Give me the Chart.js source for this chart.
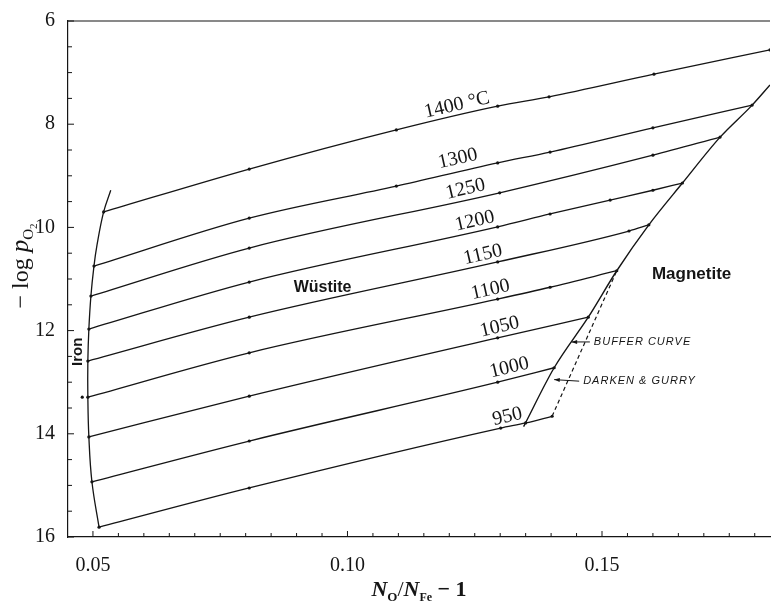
<!DOCTYPE html>
<html>
<head>
<meta charset="utf-8">
<script src="https://cdn.jsdelivr.net/npm/chart.js@4.4.0/dist/chart.umd.min.js"></script>
<style>
  html, body { margin: 0; padding: 0; background: #fff; }
</style>
</head>
<body>
<canvas id="phase" width="774" height="605"></canvas>
<script>
// tick labels
const xTicks = [0.05, 0.10, 0.15];
const yTicks = [6, 8, 10, 12, 14, 16];

// isotherms, [N_O/N_Fe - 1, -log pO2]
const iso1400 = [[0.0521, 9.70], [0.0807, 8.87], [0.1096, 8.11], [0.1295, 7.65], [0.1396, 7.47], [0.1602, 7.03], [0.1830, 6.56]];
const iso1300 = [[0.0502, 10.75], [0.0807, 9.82], [0.1096, 9.20], [0.1295, 8.75], [0.1398, 8.54], [0.1600, 8.07], [0.1795, 7.63]];
const iso1250 = [[0.0496, 11.33], [0.0807, 10.40], [0.1299, 9.33], [0.1600, 8.60], [0.1732, 8.25]];
const iso1200 = [[0.0492, 11.97], [0.0807, 11.06], [0.1295, 9.99], [0.1398, 9.74], [0.1516, 9.47], [0.1600, 9.28], [0.1658, 9.14]];
const iso1150 = [[0.0490, 12.59], [0.0807, 11.74], [0.1295, 10.67], [0.1553, 10.07], [0.1592, 9.95]];
const iso1100 = [[0.0490, 13.29], [0.0807, 12.43], [0.1295, 11.39], [0.1398, 11.16], [0.1529, 10.84]];
const iso1050 = [[0.0492, 14.06], [0.0807, 13.27], [0.1295, 12.14], [0.1473, 11.74]];
const iso1000 = [[0.0498, 14.93], [0.0807, 14.14], [0.1295, 13.00], [0.1406, 12.72]];
const iso950 = [[0.0512, 15.81], [0.0807, 15.05], [0.1301, 13.89], [0.1350, 13.79], [0.1402, 13.66]];

const isoLabels = ["1400 °C", "1300", "1250", "1200", "1150", "1100", "1050", "1000", "950"];
const isoLabelAt = [[0.1215, 7.63], [0.1217, 8.67], [0.1232, 9.26], [0.1250, 9.88], [0.1266, 10.53],
                    [0.1281, 11.21], [0.1299, 11.93], [0.1318, 12.72], [0.1314, 13.67]];

// phase boundaries
const ironBoundary = [[0.0535, 9.28], [0.0521, 9.70], [0.0508, 10.34], [0.0502, 10.75], [0.0496, 11.33], [0.0492, 11.97],
                      [0.0490, 12.59], [0.0490, 13.29], [0.0492, 14.06], [0.0498, 14.93], [0.0512, 15.81]];
const darkenGurry = [[0.1346, 13.86], [0.1406, 12.72], [0.1473, 11.74], [0.1529, 10.84], [0.1592, 9.95],
                     [0.1658, 9.14], [0.1732, 8.25], [0.1795, 7.63], [0.1830, 7.24]];
const bufferCurve = [[0.1402, 13.66], [0.1529, 10.84]];
const strayPoints = [[0.0479, 13.29]];

const regionNames = ["Wüstite", "Magnetite", "Iron"];
const regionAt = [[0.0951, 11.17], [0.1676, 10.90], [0.0471, 12.41]];

const noteTexts = ["BUFFER CURVE", "DARKEN & GURRY"];
const noteAt = [[0.1484, 12.22], [0.1463, 12.98]];
const noteArrowTo = [[0.1440, 12.22], [0.1406, 12.95]];

const INK = "#151515";

function toXY(arr) {
    return arr.map(p => ({ x: p[0], y: p[1] }));
}

function lineSet(arr, extra) {
    return Object.assign({
        data: toXY(arr),
        showLine: true,
        borderColor: INK,
        borderWidth: 1.3,
        pointRadius: 1.6,
        pointBackgroundColor: INK,
        pointBorderWidth: 0,
        cubicInterpolationMode: "monotone"
    }, extra || {});
}

function drawRich(ctx, parts, cx, cy, angle) {
    ctx.save();
    ctx.translate(cx, cy);
    ctx.rotate(angle);
    let w = 0;
    parts.forEach(p => { ctx.font = p.f; w += ctx.measureText(p.t).width; });
    let x = -w / 2;
    ctx.textBaseline = "alphabetic";
    ctx.textAlign = "left";
    parts.forEach(p => {
        ctx.font = p.f;
        ctx.fillText(p.t, x, p.dy || 0);
        x += ctx.measureText(p.t).width;
    });
    ctx.restore();
}

function arrow(ctx, x1, y1, x2, y2) {
    ctx.beginPath();
    ctx.moveTo(x1, y1);
    ctx.lineTo(x2, y2);
    ctx.stroke();
    const a = Math.atan2(y2 - y1, x2 - x1);
    ctx.beginPath();
    ctx.moveTo(x2, y2);
    ctx.lineTo(x2 - 6 * Math.cos(a - 0.35), y2 - 6 * Math.sin(a - 0.35));
    ctx.lineTo(x2 - 6 * Math.cos(a + 0.35), y2 - 6 * Math.sin(a + 0.35));
    ctx.closePath();
    ctx.fill();
}

const overlay = {
    id: "overlay",
    afterDraw(chart) {
        const { ctx, chartArea: a } = chart;
        const x = chart.scales.x, y = chart.scales.y;
        ctx.save();
        ctx.strokeStyle = INK;
        ctx.fillStyle = INK;

        // top frame line
        ctx.lineWidth = 1.2;
        ctx.beginPath();
        ctx.moveTo(a.left, a.top);
        ctx.lineTo(a.right, a.top);
        ctx.stroke();

        // inward ticks
        ctx.lineWidth = 1;
        for (let k = 10; k <= 36; k++) {
            const px = x.getPixelForValue(k * 0.005);
            const len = k % 10 === 0 ? 6 : 4;
            ctx.beginPath();
            ctx.moveTo(px, a.bottom);
            ctx.lineTo(px, a.bottom - len);
            ctx.stroke();
        }
        for (let k = 12; k <= 32; k++) {
            const py = y.getPixelForValue(k * 0.5);
            const len = k % 4 === 0 ? 6 : 4;
            ctx.beginPath();
            ctx.moveTo(a.left, py);
            ctx.lineTo(a.left + len, py);
            ctx.stroke();
        }

        // isotherm labels, rotated along their line
        const sets = [iso1400, iso1300, iso1250, iso1200, iso1150, iso1100, iso1050, iso1000, iso950];
        ctx.font = '20px "Liberation Serif"';
        ctx.textAlign = "center";
        ctx.textBaseline = "middle";
        sets.forEach((s, i) => {
            const p0 = s[1], p1 = s[s.length - 1];
            const ang = Math.atan2(y.getPixelForValue(p1[1]) - y.getPixelForValue(p0[1]),
                                   x.getPixelForValue(p1[0]) - x.getPixelForValue(p0[0]));
            ctx.save();
            ctx.translate(x.getPixelForValue(isoLabelAt[i][0]), y.getPixelForValue(isoLabelAt[i][1]));
            ctx.rotate(ang);
            ctx.fillText(isoLabels[i], 0, 0);
            ctx.restore();
        });

        // phase region names
        ctx.font = 'bold 16px "Liberation Sans"';
        ctx.fillText(regionNames[0], x.getPixelForValue(regionAt[0][0]), y.getPixelForValue(regionAt[0][1]));
        ctx.font = 'bold 17px "Liberation Sans"';
        ctx.fillText(regionNames[1], x.getPixelForValue(regionAt[1][0]), y.getPixelForValue(regionAt[1][1]));
        ctx.save();
        ctx.translate(x.getPixelForValue(regionAt[2][0]), y.getPixelForValue(regionAt[2][1]));
        ctx.rotate(-Math.PI / 2);
        ctx.font = 'bold 15px "Liberation Sans"';
        ctx.fillText(regionNames[2], 0, 0);
        ctx.restore();

        // curve notes with arrows
        ctx.font = 'italic 11px "Liberation Sans"';
        ctx.letterSpacing = "1px";
        ctx.textAlign = "left";
        ctx.lineWidth = 1;
        noteTexts.forEach((t, i) => {
            const tx = x.getPixelForValue(noteAt[i][0]), ty = y.getPixelForValue(noteAt[i][1]);
            ctx.fillText(t, tx, ty);
            arrow(ctx, tx - 4, ty, x.getPixelForValue(noteArrowTo[i][0]), y.getPixelForValue(noteArrowTo[i][1]));
        });
        ctx.letterSpacing = "0px";

        // axis titles
        const serif = '"Liberation Serif"';
        drawRich(ctx, [
            { t: "− log ", f: "24px " + serif },
            { t: "p", f: "italic 25px " + serif },
            { t: "O", f: "15px " + serif, dy: 5 },
            { t: "2", f: "11px " + serif, dy: 9 }
        ], 28, 266, -Math.PI / 2);
        drawRich(ctx, [
            { t: "N", f: "bold italic 22px " + serif },
            { t: "O", f: "bold 13px " + serif, dy: 5 },
            { t: "/", f: "22px " + serif },
            { t: "N", f: "bold italic 22px " + serif },
            { t: "Fe", f: "bold 12px " + serif, dy: 5 },
            { t: " − 1", f: "bold 22px " + serif }
        ], (a.left + a.right) / 2, 596, 0);

        ctx.restore();
    }
};

function renderPhaseChart(selector) {
    const canvas = document.querySelector(selector);
    const ctx = canvas.getContext("2d");

    const tickFont = { family: "Liberation Serif", size: 20 };

    return new Chart(ctx, {
        type: "scatter",
        data: {
            datasets: [
                lineSet(iso1400), lineSet(iso1300), lineSet(iso1250), lineSet(iso1200), lineSet(iso1150),
                lineSet(iso1100), lineSet(iso1050), lineSet(iso1000), lineSet(iso950),
                lineSet(ironBoundary, { pointRadius: 0, cubicInterpolationMode: "default", tension: 0.4 }),
                lineSet(darkenGurry, { pointRadius: 0, borderWidth: 1.4 }),
                lineSet(bufferCurve, { pointRadius: 0, borderWidth: 1.2, borderDash: [4, 3] }),
                { data: toXY(strayPoints), pointRadius: 1.6, pointBackgroundColor: INK, pointBorderWidth: 0 }
            ]
        },
        options: {
            responsive: false,
            animation: false,
            layout: { padding: { top: 21, right: 0, left: 0, bottom: 0 } },
            plugins: { legend: { display: false }, tooltip: { enabled: false } },
            scales: {
                x: {
                    type: "linear",
                    min: 0.0451,
                    max: 0.183,
                    grid: { display: false },
                    border: { display: true, color: INK, width: 1.2 },
                    afterBuildTicks: (s) => { s.ticks = xTicks.map(v => ({ value: v })); },
                    afterFit: (s) => { s.height = 68; },
                    ticks: {
                        font: tickFont,
                        color: INK,
                        padding: 9,
                        maxRotation: 0,
                        autoSkip: false,
                        callback: (v) => Number(v).toFixed(2)
                    }
                },
                y: {
                    type: "linear",
                    reverse: true,
                    min: 6,
                    max: 16,
                    grid: { display: false },
                    border: { display: true, color: INK, width: 1.2 },
                    afterBuildTicks: (s) => { s.ticks = yTicks.map(v => ({ value: v })); },
                    afterFit: (s) => { s.width = 68; },
                    ticks: {
                        font: tickFont,
                        color: INK,
                        padding: 5,
                        autoSkip: false,
                        callback: (v) => String(v)
                    }
                }
            }
        },
        plugins: [overlay]
    });
}

document.addEventListener("DOMContentLoaded", () => {
    globalThis.phaseChart = renderPhaseChart("#phase");
});
</script>
</body>
</html>
